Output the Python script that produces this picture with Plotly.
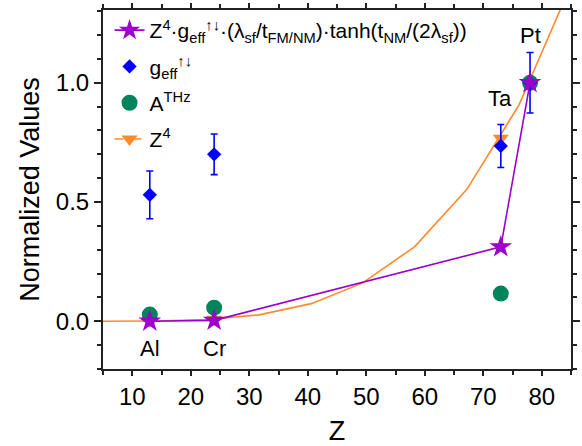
import plotly.graph_objects as go

# Elements and atomic numbers
elements = ["Al", "Cr", "Ta", "Pt"]
z_elem = [13, 24, 73, 78]

# Normalized measured / derived quantities
g_eff = [0.53, 0.70, 0.735, 1.0]
g_eff_err = [0.10, 0.085, 0.09, 0.127]
a_thz = [0.028, 0.057, 0.116, 1.0]
z4_points = [0.0008, 0.009, 0.767, 1.0]
model = [0.0, 0.004, 0.312, 1.0]

# Smooth Z^4 reference curve (normalized to Pt)
z_curve = [5, 13.9, 22.8, 31.7, 40.6, 49.4, 58.3, 67.2, 76.1, 85]
z4_curve = [0.0002, 0.0014, 0.0073, 0.027, 0.074, 0.161, 0.313, 0.553, 0.906, 1.41]

# Label placement for element names
label_x = [13, 24, 72.8, 78]
label_y = [-0.113, -0.113, 0.935, 1.2]

PURPLE = "#9B00CC"
BLUE = "#0000FF"
GREEN = "#00855A"
ORANGE = "#FF8A2E"
AXIS = "#222222"
FONT = "Arial, Liberation Sans, sans-serif"


def with_gaps(vals):
    out = []
    for i, v in enumerate(vals):
        if i:
            out.append(None)
        out.append(v)
    return out


fig = go.Figure()

fig.add_trace(go.Scatter(
    x=z_curve, y=z4_curve, mode="lines",
    line=dict(color=ORANGE, width=1.6),
    showlegend=False, hoverinfo="skip",
))

fig.add_trace(go.Scatter(
    x=with_gaps(z_elem), y=with_gaps(z4_points), mode="lines+markers",
    connectgaps=False,
    line=dict(color=ORANGE, width=1.6, dash="dash"),
    marker=dict(symbol="triangle-down", size=14, color=ORANGE),
    name="Z<sup>4</sup>", legendgroup="d", legendrank=4,
))

fig.add_trace(go.Scatter(
    x=z_elem, y=a_thz, mode="markers",
    marker=dict(symbol="circle", size=16, color=GREEN),
    name="A<sup>THz</sup>", legendgroup="c", legendrank=3,
))

fig.add_trace(go.Scatter(
    x=z_elem, y=g_eff, mode="markers",
    marker=dict(symbol="diamond", size=11, color=BLUE),
    error_y=dict(type="data", array=g_eff_err, visible=True,
                 color=BLUE, thickness=1.6, width=3.5),
    name="g<sub>eff</sub><sup>↑↓</sup>", legendgroup="b", legendrank=2,
))

fig.add_trace(go.Scatter(
    x=z_elem, y=model, mode="lines+markers",
    line=dict(color=PURPLE, width=1.6),
    marker=dict(symbol="star", size=17, color=PURPLE),
    name="Z<sup>4</sup>·g<sub>eff</sub><sup>↑↓</sup>·(λ<sub>sf</sub>/t<sub>FM/NM</sub>)·tanh(t<sub>NM</sub>/(2λ<sub>sf</sub>))",
    legendgroup="a", legendrank=1,
))

for name, xx, yy in zip(elements, label_x, label_y):
    fig.add_annotation(x=xx, y=yy, text=name, showarrow=False,
                       font=dict(family=FONT, size=22, color="black"))

axis_common = dict(
    showline=True, linecolor=AXIS, linewidth=2, mirror="allticks",
    ticks="outside", tickcolor=AXIS, tickwidth=1.6,
    showgrid=False, zeroline=False,
    tickfont=dict(family=FONT, size=24, color="black"),
)

fig.update_xaxes(
    **axis_common, range=[5, 85], dtick=10, tick0=0, ticklen=5,
    minor=dict(dtick=5, tick0=0, ticklen=4, ticks="outside", tickcolor=AXIS),
    title=dict(text="Z", font=dict(family=FONT, size=27, color="black"), standoff=12),
)
fig.update_yaxes(
    **axis_common, range=[-0.2, 1.305], dtick=0.5, tick0=0, ticklen=7,
    tickformat=".1f",
    minor=dict(dtick=0.1, tick0=0, ticklen=4, ticks="outside", tickcolor=AXIS),
    title=dict(text="Normalized Values", font=dict(family=FONT, size=27, color="black"), standoff=8),
)

fig.update_layout(
    width=582, height=446,
    margin=dict(l=103, r=2, t=10, b=77),
    paper_bgcolor="white", plot_bgcolor="white",
    font=dict(family=FONT, color="black"),
    legend=dict(
        x=0.014, y=1.0, xanchor="left", yanchor="top",
        traceorder="grouped", tracegroupgap=6,
        bgcolor="rgba(0,0,0,0)", borderwidth=0,
        font=dict(family=FONT, size=21, color="black"),
    ),
)

fig.write_html("out.html")
